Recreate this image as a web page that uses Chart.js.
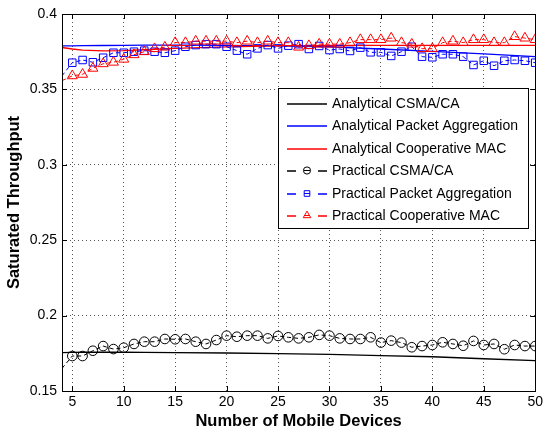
<!DOCTYPE html>
<html>
<head>
<meta charset="utf-8">
<script src="https://cdn.jsdelivr.net/npm/chart.js@4.4.1/dist/chart.umd.min.js"></script>
<style>
  body { margin: 0; background: #fff; }
  #wrap { width: 546px; height: 431px; }
</style>
</head>
<body>
<div id="wrap"><canvas id="chart" width="546" height="431"></canvas></div>
<script>
const devices = [4, 5, 6, 7, 8, 9, 10, 11, 12, 13, 14, 15, 16, 17, 18, 19, 20, 21, 22, 23, 24, 25, 26, 27,
  28, 29, 30, 31, 32, 33, 34, 35, 36, 37, 38, 39, 40, 41, 42, 43, 44, 45, 46, 47, 48, 49, 50];

const practicalCsma = [0.165, 0.1732, 0.1732, 0.1767, 0.1798, 0.1778, 0.1787, 0.1812, 0.1827, 0.1827, 0.1845,
  0.1843, 0.1845, 0.1827, 0.1812, 0.1838, 0.1867, 0.186, 0.1867, 0.1867, 0.1849, 0.1865, 0.1856, 0.1849,
  0.1856, 0.1872, 0.1867, 0.1849, 0.1845, 0.1845, 0.1856, 0.1821, 0.1834, 0.1821, 0.179, 0.1798, 0.1805,
  0.1823, 0.1812, 0.18, 0.1832, 0.1805, 0.1812, 0.1777, 0.1805, 0.1798, 0.1798];

const practicalAggregation = [0.359, 0.3677, 0.3695, 0.368, 0.371, 0.3743, 0.3743, 0.375, 0.3757, 0.375, 0.3743,
  0.3757, 0.3783, 0.3794, 0.38, 0.38, 0.3783, 0.3757, 0.3733, 0.3772, 0.3794, 0.3772, 0.379, 0.38, 0.3768,
  0.3788, 0.3761, 0.3768, 0.3755, 0.3777, 0.3746, 0.3746, 0.3722, 0.375, 0.3783, 0.3717, 0.3713, 0.3733,
  0.3733, 0.3717, 0.3662, 0.369, 0.3657, 0.369, 0.3695, 0.369, 0.3677];

const practicalCooperative = [0.3558, 0.359, 0.36, 0.364, 0.367, 0.368, 0.37, 0.373, 0.375, 0.377, 0.378, 0.381,
  0.381, 0.382, 0.382, 0.382, 0.382, 0.381, 0.382, 0.381, 0.382, 0.381, 0.381, 0.378, 0.379, 0.38, 0.38,
  0.38, 0.381, 0.383, 0.383, 0.383, 0.384, 0.381, 0.38, 0.377, 0.377, 0.381, 0.382, 0.381, 0.383, 0.383,
  0.381, 0.381, 0.385, 0.384, 0.383];

const analyticDevices = [4, 5, 6, 8, 10, 12, 15, 20, 25, 30, 35, 40, 45, 50];
const analyticCsma = [0.1755, 0.1756, 0.1757, 0.1757, 0.1757, 0.1756, 0.1755, 0.1752, 0.1748, 0.1743, 0.1735,
  0.1727, 0.1714, 0.1701];
const analyticAggregation = [0.3788, 0.3789, 0.379, 0.3791, 0.3792, 0.3793, 0.3793, 0.3792, 0.3788, 0.3782,
  0.3768, 0.3752, 0.3736, 0.3718];
const analyticCooperative = [0.3778, 0.3768, 0.3761, 0.3756, 0.3757, 0.3763, 0.3772, 0.3782, 0.3788, 0.3791,
  0.3792, 0.3792, 0.3792, 0.3792];

const xTicks = [5, 10, 15, 20, 25, 30, 35, 40, 45, 50];
const yTicks = [0.15, 0.2, 0.25, 0.3, 0.35, 0.4];
const yTickLabels = ["0.15", "0.2", "0.25", "0.3", "0.35", "0.4"];

const seriesNames = [
  "Analytical CSMA/CA",
  "Analytical Packet Aggregation",
  "Analytical Cooperative MAC",
  "Practical CSMA/CA",
  "Practical Packet Aggregation",
  "Practical Cooperative MAC",
];
const seriesColors = ["#000000", "#0000ff", "#ff0000", "#000000", "#0000ff", "#ff0000"];
const seriesMarkers = [null, null, null, "circle", "rect", "triangle"];
const markerRadius = { circle: 4.8, rect: 5.3, triangle: 5.8 };

const font = "'Liberation Sans', Arial, Helvetica, sans-serif";

const toPoints = (xs, ys) => xs.map((x, i) => ({ x: x, y: ys[i] }));

const analyticSet = (i, values) => ({
  label: seriesNames[i],
  data: toPoints(analyticDevices, values),
  borderColor: seriesColors[i],
  borderWidth: 1.3,
  pointRadius: 0,
  tension: 0,
  order: 6 - i,
});

const practicalSet = (i, values) => ({
  label: seriesNames[i],
  data: toPoints(devices, values),
  borderColor: seriesColors[i],
  borderWidth: 1,
  borderDash: [4, 3],
  pointStyle: seriesMarkers[i],
  pointRadius: (ctx) => (ctx.raw && ctx.raw.x < 5 ? 0 : markerRadius[seriesMarkers[i]]),
  pointBorderColor: seriesColors[i],
  pointBackgroundColor: "rgba(0,0,0,0)",
  pointBorderWidth: 1,
  tension: 0,
  order: 6 - i,
});

const frameAndLegend = {
  id: "frameAndLegend",
  afterDraw(chart) {
    const ctx = chart.ctx;
    const area = chart.chartArea;
    const xs = chart.scales.x;
    const ys = chart.scales.y;

    ctx.save();
    ctx.strokeStyle = "#000";
    ctx.lineWidth = 1;
    ctx.setLineDash([]);
    ctx.strokeRect(Math.round(area.left) + 0.5, Math.round(area.top) + 0.5,
      Math.round(area.right - area.left), Math.round(area.bottom - area.top));

    ctx.beginPath();
    xTicks.forEach((t) => {
      const px = Math.round(xs.getPixelForValue(t)) + 0.5;
      ctx.moveTo(px, area.bottom);
      ctx.lineTo(px, area.bottom - 5);
      ctx.moveTo(px, area.top);
      ctx.lineTo(px, area.top + 5);
    });
    yTicks.forEach((t) => {
      const py = Math.round(ys.getPixelForValue(t)) + 0.5;
      ctx.moveTo(area.left, py);
      ctx.lineTo(area.left + 5, py);
      ctx.moveTo(area.right, py);
      ctx.lineTo(area.right - 5, py);
    });
    ctx.stroke();

    // legend box
    const box = { left: 278.5, top: 88.5, width: 250, height: 140 };
    ctx.fillStyle = "#fff";
    ctx.fillRect(box.left, box.top, box.width, box.height);
    ctx.strokeRect(box.left, box.top, box.width, box.height);

    const rowY = [103, 125, 148, 170, 193, 215];
    ctx.font = "14px " + font;
    ctx.textBaseline = "middle";
    ctx.textAlign = "left";
    seriesNames.forEach((name, i) => {
      const y = rowY[i] + 1;
      ctx.strokeStyle = seriesColors[i];
      ctx.fillStyle = "rgba(0,0,0,0)";
      ctx.lineWidth = 1.4;
      ctx.beginPath();
      if (seriesMarkers[i]) {
        ctx.moveTo(287, y);
        ctx.lineTo(296, y);
        ctx.moveTo(318, y);
        ctx.lineTo(327, y);
      } else {
        ctx.moveTo(287, y);
        ctx.lineTo(327, y);
      }
      ctx.stroke();
      ctx.lineWidth = 1;
      if (seriesMarkers[i]) {
        Chart.helpers.drawPoint(ctx, {
          pointStyle: seriesMarkers[i],
          radius: markerRadius[seriesMarkers[i]] * 0.75,
          borderWidth: 1,
        }, 307, rowY[i] + 0.5);
        ctx.beginPath();
        ctx.moveTo(304, rowY[i] + 0.5);
        ctx.lineTo(310, rowY[i] + 0.5);
        ctx.stroke();
      }
      ctx.fillStyle = "#000";
      ctx.fillText(name, 332, rowY[i] + 1);
    });
    ctx.restore();
  },
};

new Chart(document.getElementById("chart"), {
  type: "line",
  data: {
    datasets: [
      analyticSet(0, analyticCsma),
      analyticSet(1, analyticAggregation),
      analyticSet(2, analyticCooperative),
      practicalSet(3, practicalCsma),
      practicalSet(4, practicalAggregation),
      practicalSet(5, practicalCooperative),
    ],
  },
  options: {
    responsive: false,
    animation: false,
    events: [],
    layout: { padding: { top: 14, right: 7, left: 0, bottom: 0 } },
    plugins: {
      legend: { display: false },
      tooltip: { enabled: false },
    },
    scales: {
      x: {
        type: "linear",
        min: 4,
        max: 50,
        afterBuildTicks: (scale) => {
          scale.ticks = xTicks.map((v) => ({ value: v }));
        },
        afterFit: (scale) => {
          scale.height = 40;
        },
        grid: { color: "#555", lineWidth: 1, drawTicks: false },
        border: { display: false, dash: [1, 3] },
        ticks: {
          color: "#000",
          padding: 3,
          maxRotation: 0,
          font: { family: font, size: 14 },
          callback: (v) => String(v),
        },
        title: {
          display: true,
          text: "Number of Mobile Devices",
          color: "#000",
          padding: { top: 0, bottom: 0 },
          font: { family: font, size: 16.5, weight: "bold" },
        },
      },
      y: {
        min: 0.15,
        max: 0.4,
        afterBuildTicks: (scale) => {
          scale.ticks = yTicks.map((v) => ({ value: v }));
        },
        afterFit: (scale) => {
          scale.width = 62;
        },
        grid: { color: "#555", lineWidth: 1, drawTicks: false },
        border: { display: false, dash: [1, 3] },
        ticks: {
          color: "#000",
          padding: 5,
          font: { family: font, size: 14 },
          callback: (v, i) => yTickLabels[i],
        },
        title: {
          display: true,
          text: "Saturated Throughput",
          color: "#000",
          padding: { top: 5, bottom: 0 },
          font: { family: font, size: 16.5, weight: "bold" },
        },
      },
    },
  },
  plugins: [frameAndLegend],
});
</script>
</body>
</html>
